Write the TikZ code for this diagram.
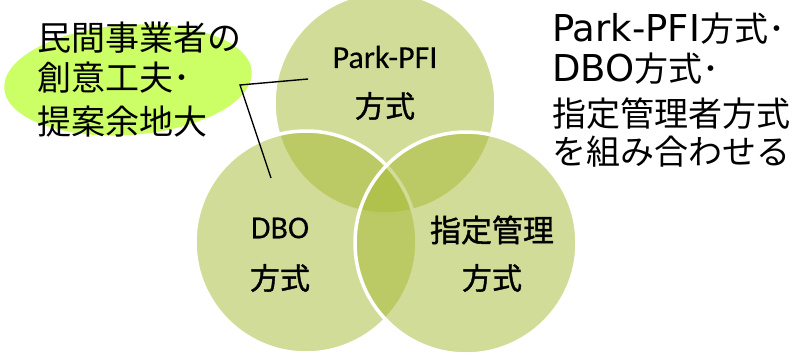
\documentclass[tikz,border=0pt]{standalone}
\usepackage{fontspec}
\usetikzlibrary{shapes.geometric}
\setmainfont{Noto Sans CJK JP}
\newfontfamily\latfont{DejaVu Sans}
\newfontfamily\carlfont[FakeBold=0.2]{Carlito}
\newfontfamily\cjkheavy[FakeBold=1.2]{Noto Sans CJK JP}
\definecolor{vennc}{RGB}{166,185,51}
\definecolor{limec}{RGB}{204,255,102}
\begin{document}
\begin{tikzpicture}[x=1pt,y=-1pt,
  venn/.style={circle,minimum size=222pt,inner sep=0pt,fill=vennc,fill opacity=0.5,draw=white,draw opacity=1,line width=3.5pt},
  bigtxt/.style={font=\fontsize{34}{40}\selectfont,anchor=west,inner sep=0pt},
  latlab/.style={font=\carlfont\fontsize{32}{36}\selectfont,inner sep=0pt},
  cjklab/.style={font=\cjkheavy\fontsize{30}{36}\selectfont,inner sep=0pt},
  conn/.style={draw=black,line width=1.4pt}]
\useasboundingbox (0,0) rectangle (805,354);
\node[ellipse,fill=limec,minimum width=248pt,minimum height=110pt,inner sep=0pt,rotate=4] (el) at (128,80) {};
\node[venn] (top) at (385,103) {};
\node[venn] (dbo) at (306,242) {};
\node[venn] (shi) at (466,243) {};
\node[latlab] (tl) at (385,57) {Park-PFI};
\node[cjklab] (tf) at (385,106) {方式};
\node[latlab] (dl) at (280,228) {DBO};
\node[cjklab] (df) at (280,278) {方式};
\node[cjklab,font=\cjkheavy\fontsize{31}{36}\selectfont] (sl) at (492,230) {指定管理};
\node[cjklab] (sf) at (492,278) {方式};
\node[bigtxt] (l1) at (37,37.5) {民間事業者の};
\node[bigtxt] (l2) at (37,78) {創意工夫･};
\node[bigtxt] (l3) at (37,122) {提案余地大};
\node[bigtxt] (r1) at (552,29) {{\latfont\fontsize{37}{40}\selectfont Park-PFI}方式･};
\node[bigtxt] (r2) at (552,69) {{\latfont\fontsize{37}{40}\selectfont DBO}方式･};
\node[bigtxt] (r3) at (552,113.5) {指定管理者方式};
\node[bigtxt] (r4) at (552,152) {を組み合わせる};
\coordinate (ct) at (308,79);
\coordinate (ck) at (240,85);
\coordinate (cd) at (271,178);
\draw[conn] (ct) -- (ck) -- (cd);
\end{tikzpicture}
\end{document}
